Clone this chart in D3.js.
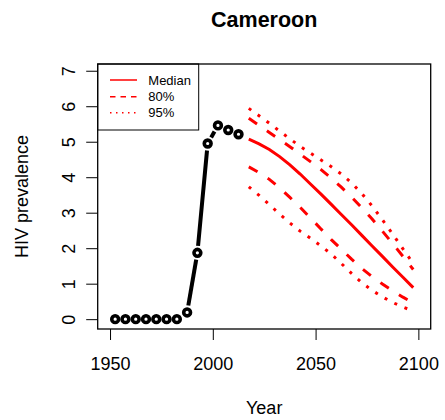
<!DOCTYPE html>
<html>
<head>
<meta charset="utf-8">
<script src="https://cdn.jsdelivr.net/npm/d3@7"></script>
<style>
  html, body { margin: 0; padding: 0; background: #fff; }
  svg { display: block; font-family: "Liberation Sans", Arial, sans-serif; }
</style>
</head>
<body>
<svg id="chart" width="445" height="420"></svg>
<script>
// ---- data ----
const histYears  = [1952.5, 1957.5, 1962.5, 1967.5, 1972.5, 1977.5, 1982.5, 1987.5, 1992.5, 1997.5, 2002.5, 2007.5, 2012.5];
const histValues = [0, 0, 0, 0, 0, 0, 0, 0.19, 1.87, 4.95, 5.46, 5.33, 5.21];

const projYears = [2017.5, 2022.5, 2027.5, 2032.5, 2037.5, 2042.5, 2047.5, 2052.5, 2057.5, 2062.5, 2067.5, 2072.5, 2077.5, 2082.5, 2087.5, 2092.5, 2097.5];
const median  = [5.07, 4.94, 4.78, 4.58, 4.35, 4.09, 3.81, 3.53, 3.24, 2.95, 2.66, 2.36, 2.06, 1.77, 1.47, 1.18, 0.89];
const upper80 = [5.66, 5.46, 5.26, 5.06, 4.86, 4.65, 4.44, 4.22, 3.98, 3.72, 3.44, 3.14, 2.82, 2.48, 2.13, 1.77, 1.40];
const lower80 = [4.29, 4.13, 3.94, 3.70, 3.43, 3.15, 2.85, 2.55, 2.25, 1.97, 1.69, 1.43, 1.20, 0.99, 0.80, 0.62, 0.46];
const upper95 = [5.94, 5.73, 5.52, 5.30, 5.08, 4.87, 4.68, 4.49, 4.30, 4.09, 3.84, 3.54, 3.19, 2.80, 2.40, 1.98, 1.57];
const lower95 = [3.73, 3.49, 3.23, 2.96, 2.71, 2.48, 2.28, 2.07, 1.84, 1.57, 1.29, 1.03, 0.81, 0.63, 0.47, 0.34, 0.23];

const xTicks = [1950, 2000, 2050, 2100];
const yTicks = [0, 1, 2, 3, 4, 5, 6, 7];
const legendLabels = ["Median", "80%", "95%"];

const title = "Cameroon";
const xLabel = "Year";
const yLabel = "HIV prevalence";

// ---- layout ----
const box = { left: 97.7, right: 430.7, top: 64, bottom: 329 };
const svg = d3.select("#chart");

const x = d3.scaleLinear().domain([1944, 2106]).range([box.left, box.right]);
const y = d3.scaleLinear().domain([-0.277, 7.19]).range([box.bottom, box.top]);

// title
svg.append("text")
  .attr("x", (box.left + box.right) / 2).attr("y", 27)
  .attr("text-anchor", "middle")
  .attr("font-size", "21.5px").attr("font-weight", "bold")
  .text(title);

// axes
const xAxis = svg.append("g")
  .attr("transform", `translate(0,${box.bottom})`)
  .call(d3.axisBottom(x).tickValues(xTicks).tickSize(11).tickPadding(0).tickFormat(d3.format("d")));
xAxis.select(".domain").remove();
xAxis.selectAll(".tick line").attr("stroke", "#000").attr("stroke-width", 1);
xAxis.selectAll(".tick text")
  .attr("y", 41).attr("dy", 0)
  .attr("font-size", "18px").attr("fill", "#000").attr("font-family", "Liberation Sans, Arial, sans-serif");

const yAxis = svg.append("g")
  .attr("transform", `translate(${box.left},0)`)
  .call(d3.axisLeft(y).tickValues(yTicks).tickSize(11.5).tickFormat(d3.format("d")));
yAxis.select(".domain").remove();
yAxis.selectAll(".tick line").attr("stroke", "#000").attr("stroke-width", 1);
yAxis.selectAll(".tick text")
  .attr("transform", "rotate(-90)")
  .attr("x", 0).attr("y", -22.7).attr("dy", 0)
  .attr("text-anchor", "middle")
  .attr("font-size", "18px").attr("fill", "#000").attr("font-family", "Liberation Sans, Arial, sans-serif");

// axis titles
svg.append("text")
  .attr("x", (box.left + box.right) / 2).attr("y", 414)
  .attr("text-anchor", "middle").attr("font-size", "18px")
  .text(xLabel);
svg.append("text")
  .attr("transform", `translate(28.3,${(box.top + box.bottom) / 2}) rotate(-90)`)
  .attr("text-anchor", "middle").attr("font-size", "18px")
  .text(yLabel);

// historic series, type "b": segments with gaps + open circles
const hist = histYears.map((yr, i) => ({ px: x(yr), py: y(histValues[i]) }));
const gap = 7;
const segs = [];
for (let i = 0; i < hist.length - 1; i++) {
  const a = hist[i], b = hist[i + 1];
  const dx = b.px - a.px, dy = b.py - a.py;
  const len = Math.hypot(dx, dy);
  if (len > 2 * gap) {
    const ux = dx / len, uy = dy / len;
    segs.push([a.px + ux * gap, a.py + uy * gap, b.px - ux * gap, b.py - uy * gap]);
  }
}
svg.append("g").selectAll("line").data(segs).join("line")
  .attr("x1", d => d[0]).attr("y1", d => d[1])
  .attr("x2", d => d[2]).attr("y2", d => d[3])
  .attr("stroke", "#000").attr("stroke-width", 4);
svg.append("g").selectAll("circle").data(hist).join("circle")
  .attr("cx", d => d.px).attr("cy", d => d.py).attr("r", 3.4)
  .attr("fill", "none").attr("stroke", "#000").attr("stroke-width", 3.6);

// projections
const line = d3.line().x(d => x(d[0])).y(d => y(d[1]));
const series = [
  { v: median,  dash: null },
  { v: upper80, dash: "10,12" },
  { v: lower80, dash: "10,12" },
  { v: upper95, dash: "3,8" },
  { v: lower95, dash: "3,8" }
];
svg.append("g").selectAll("path").data(series).join("path")
  .attr("d", s => line(projYears.map((yr, i) => [yr, s.v[i]])))
  .attr("fill", "none").attr("stroke", "#ff0000").attr("stroke-width", 3)
  .attr("stroke-dasharray", s => s.dash);

// legend
const lg = svg.append("g");
lg.append("rect")
  .attr("x", box.left).attr("y", box.top)
  .attr("width", 101).attr("height", 66)
  .attr("fill", "#fff").attr("stroke", "#000").attr("stroke-width", 1);
const legDash = [null, "5.5,5", "1.5,4.5"];
const legY = [80, 96.7, 112.7];
legendLabels.forEach((lab, i) => {
  lg.append("line")
    .attr("x1", 110).attr("x2", 137).attr("y1", legY[i]).attr("y2", legY[i])
    .attr("stroke", "#ff0000").attr("stroke-width", 1.5)
    .attr("stroke-dasharray", legDash[i]);
  lg.append("text")
    .attr("x", 148.3).attr("y", legY[i]).attr("dy", "0.35em")
    .attr("font-size", "13px")
    .text(lab);
});

// plot box
svg.append("rect")
  .attr("x", box.left).attr("y", box.top)
  .attr("width", box.right - box.left).attr("height", box.bottom - box.top)
  .attr("fill", "none").attr("stroke", "#000").attr("stroke-width", 1.3);
</script>
</body>
</html>
